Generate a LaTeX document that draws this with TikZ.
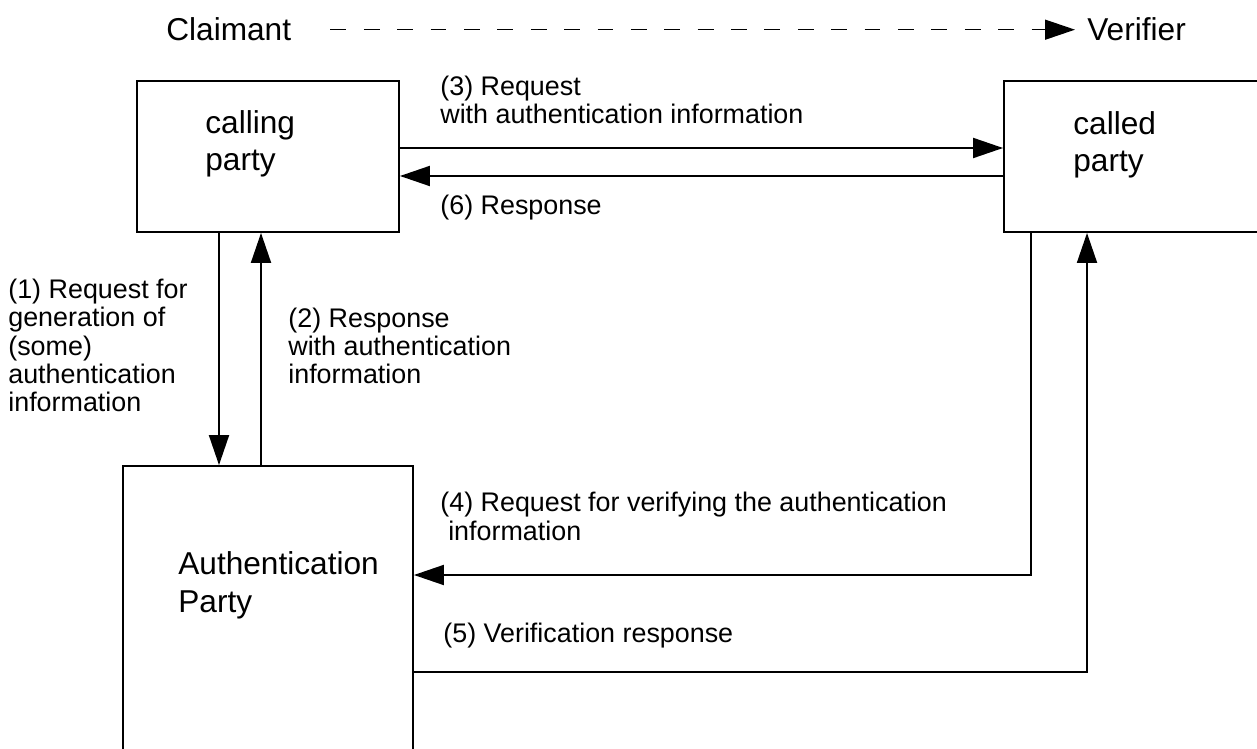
\documentclass[tikz,border=0pt]{standalone}
\usepackage{fontspec}
\setmainfont{Liberation Sans}
\usetikzlibrary{arrows.meta}
\tikzstyle{party}=[draw,line width=1.1pt,inner sep=0pt]
\tikzstyle{line} = [draw,line width=1.1pt,-{Triangle[length=0.6cm,width=0.4cm]}]
\tikzstyle{boxtext}=[align=left,inner sep=0pt,anchor=base west,font=\fontsize{18}{21.3}\selectfont]
\tikzstyle{msg}=[align=left,inner sep=0pt,anchor=base west,font=\fontsize{15.3}{16.2}\selectfont]

\begin{document}
\begin{tikzpicture}[x=0.02cm,y=-0.02cm]
  \useasboundingbox (0,0) rectangle (1257,749);
  \clip (0,0) rectangle (1257,749);
  % parties
  \node[party,minimum width=5.24cm,minimum height=3.02cm] (calling) at (268,156.5) {};
  \node[party,minimum width=5.92cm,minimum height=3.02cm] (called) at (1152,156.5) {};
  \node[party,minimum width=5.8cm,minimum height=6.68cm] (auth) at (268,633) {};
  % (base of a two-line text is its last line)
  \node[boxtext] (callingtext) at (205,171) {calling\\party};
  \node[boxtext] (calledtext) at (1073,172) {called\\party};
  \node[boxtext] (authtext) at (178,612) {Authentication\\Party};

  % claimant and verifier
  \node[boxtext] (claimant) at (166,41) {Claimant};
  \node[boxtext] (verifier) at (1087,41) {Verifier};
  \path[line,line width=0.8pt,dash pattern=on 9pt off 10pt,shorten <=0.78cm,shorten >=0.24cm] (claimant.east) -- (verifier.west);

  % messages
  \node[msg] (req1) at (8,412) {(1) Request for\\generation of\\(some)\\authentication\\information};
  \node[msg] (resp2) at (288,384) {(2) Response\\with authentication\\information};
  \node[msg] (req3) at (440,124) {(3) Request\\with authentication information};
  \node[msg] (req4) at (440,540) {(4) Request for verifying the authentication\\\hspace{4.5pt}information};
  \node[msg] (resp5) at (443,642) {(5) Verification response};
  \node[msg] (resp6) at (440,215) {(6) Response};

  % connectors
  \coordinate (c1) at (219,0);
  \coordinate (c2) at (261,0);
  \coordinate (c3) at (0,148);
  \coordinate (c6) at (0,176);
  \coordinate (c4) at (1031,575);
  \coordinate (c5) at (1087,672);
  \path[line] (calling.south -| c1) -- (auth.north -| c1);
  \path[line] (auth.north -| c2) -- (calling.south -| c2);
  \path[line] (calling.east |- c3) -- (called.west |- c3);
  \path[line] (called.west |- c6) -- (calling.east |- c6);
  \path[line] (called.south -| c4) -- (c4) -- (auth.east |- c4);
  \path[line] (auth.east |- c5) -- (c5) -- (called.south -| c5);
\end{tikzpicture}
\end{document}
